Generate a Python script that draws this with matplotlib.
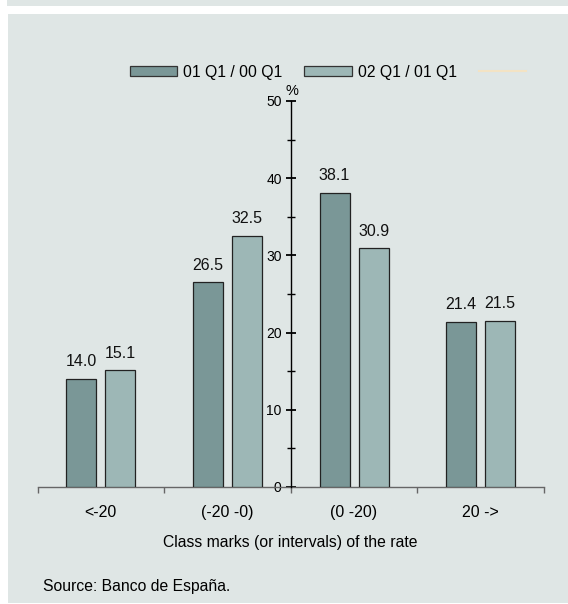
import matplotlib
matplotlib.use("Agg")
import matplotlib.pyplot as plt
from matplotlib.patches import Rectangle, Patch
from matplotlib.lines import Line2D
import numpy as np

plt.rcParams['font.family'] = ['Liberation Sans', 'DejaVu Sans']

categories = ["<-20", "(-20 -0)", "(0 -20)", "20 ->"]
series_names = ["01 Q1 / 00 Q1", "02 Q1 / 01 Q1"]
s1 = [14.0, 26.5, 38.1, 21.4]
s2 = [15.1, 32.5, 30.9, 21.5]
yticks = [0, 10, 20, 30, 40, 50]

bg = '#dfe6e5'
c1 = '#7a9797'
c2 = '#9db7b6'

W, H = 568, 604
fig = plt.figure(figsize=(W / 100, H / 100), dpi=100)
fig.patch.set_facecolor('white')
# background panels
fig.add_artist(Rectangle((7 / W, 1 - 6 / H), 1 - 7 / W, 6 / H, transform=fig.transFigure,
                         facecolor=bg, edgecolor='none', zorder=0))
fig.add_artist(Rectangle((8 / W, 1 - 603 / H), 1 - 8 / W, (603 - 14) / H, transform=fig.transFigure,
                         facecolor=bg, edgecolor='none', zorder=0))

left, right = 37.5 / W, 544 / W
bottom, top = 1 - 487 / H, 1 - 101 / H
ax = fig.add_axes([left, bottom, right - left, top - bottom])
ax.set_facecolor('none')

x = np.arange(len(categories))
bw = 0.236
off = 0.154
b1 = ax.bar(x - off, s1, bw, color=c1, edgecolor='#222222', linewidth=0.9, zorder=3)
b2 = ax.bar(x + off, s2, bw, color=c2, edgecolor='#222222', linewidth=0.9, zorder=3)
for bars, vals in ((b1, s1), (b2, s2)):
    for r, v in zip(bars, vals):
        ax.annotate(f"{v:.1f}", (r.get_x() + r.get_width() / 2, v), xytext=(0, 7),
                    textcoords='offset points', ha='center', va='bottom', fontsize=11.5,
                    color='#111111')

ax.set_xlim(-0.5, 3.5)
ax.set_ylim(0, 50)
for s in ('top', 'right'):
    ax.spines[s].set_visible(False)
ax.spines['left'].set_position(('data', 1.5))
ax.spines['left'].set_color('black')
ax.spines['left'].set_linewidth(1.0)
ax.spines['left'].set_zorder(4)
ax.spines['bottom'].set_color('#666666')
ax.spines['bottom'].set_linewidth(1.0)

ax.set_yticks(yticks)
ax.set_yticks([5, 15, 25, 35, 45], minor=True)
ax.tick_params(axis='y', which='major', direction='inout', length=7, width=1.3,
               labelsize=10, pad=3, colors='black')
ax.tick_params(axis='y', which='minor', direction='inout', length=6, width=1.0)

ax.set_xticks(x)
ax.set_xticklabels(categories)
ax.set_xticks([-0.5, 0.5, 1.5, 2.5, 3.5], minor=True)
ax.tick_params(axis='x', which='major', length=0, labelsize=11.5, pad=13)
ax.tick_params(axis='x', which='minor', direction='out', length=4, width=1.0, colors='#666666')

fig.text(292 / W, 1 - 91 / H, '%', ha='center', va='center', fontsize=10.5)
fig.text(290 / W, 1 - 543 / H, 'Class marks (or intervals) of the rate', ha='center',
         va='center', fontsize=11.3)
fig.text(43 / W, 1 - 586 / H, 'Source: Banco de España.', ha='left', va='center', fontsize=11.3)

handles = [Patch(facecolor=c1, edgecolor='#333333', linewidth=0.9),
           Patch(facecolor=c2, edgecolor='#333333', linewidth=0.9),
           Line2D([], [], color='#f3e3c4', linewidth=1.5)]
leg = fig.legend(handles, series_names + [''], loc='center', ncol=3,
                 bbox_to_anchor=(331 / W, 1 - 72 / H), frameon=False, fontsize=11.3,
                 handlelength=3.0, handleheight=0.55, handletextpad=0.4,
                 columnspacing=1.4)

fig.savefig('out.png', dpi=100, facecolor=fig.get_facecolor())
